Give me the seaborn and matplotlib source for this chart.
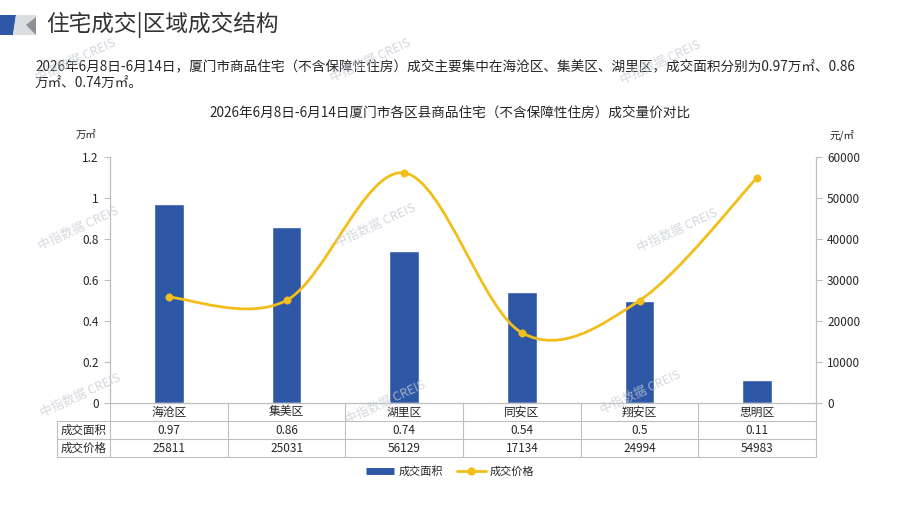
import numpy as np
import pandas as pd
import matplotlib
matplotlib.use('Agg')
import matplotlib.pyplot as plt
import seaborn as sns
from matplotlib.path import Path
from matplotlib.patches import PathPatch, Polygon
from matplotlib.lines import Line2D

# 数据
districts = ['海沧区', '集美区', '湖里区', '同安区', '翔安区', '思明区']
area = [0.97, 0.86, 0.74, 0.54, 0.5, 0.11]
price = [25811, 25031, 56129, 17134, 24994, 54983]
area_labels = ['0.97', '0.86', '0.74', '0.54', '0.5', '0.11']
price_labels = ['25811', '25031', '56129', '17134', '24994', '54983']
row_names = ['成交面积', '成交价格']
left_ticks = [0, 0.2, 0.4, 0.6, 0.8, 1, 1.2]
left_tick_labels = ['0', '0.2', '0.4', '0.6', '0.8', '1', '1.2']
right_ticks = [0, 10000, 20000, 30000, 40000, 50000, 60000]

sns.set_theme(style='white')
plt.rcParams['font.family'] = ['Noto Sans CJK SC', 'DejaVu Sans']

BLUE = '#2E58A6'
GOLD = '#F2BE1A'
LINE = '#BFBFBF'
TXT = '#262626'

W, H = 897, 505
fig = plt.figure(figsize=(W / 100, H / 100), dpi=100)


def px(x, y):
    return (x / W, 1 - y / H)


# 标题装饰
for pts, col in [
    ([(0, 15), (16, 15), (13, 35), (0, 35)], '#2E58A6'),
    ([(16, 15), (36, 15), (36, 35), (13, 35)], '#DCDDE1'),
    ([(26, 25), (36, 17), (36, 35)], '#8E9096'),
]:
    fig.patches.append(Polygon([px(*p) for p in pts], closed=True, transform=fig.transFigure,
                               facecolor=col, edgecolor='none'))
fig.text(*px(46, 25), '住宅成交|区域成交结构', fontsize=16.3, color='#333333', va='center', ha='left')

fig.text(*px(35, 66), '2026年6月8日-6月14日，厦门市商品住宅（不含保障性住房）成交主要集中在海沧区、集美区、湖里区，成交面积分别为0.97万㎡、0.86',
         fontsize=9.8, color=TXT, va='center', ha='left')
fig.text(*px(35, 83), '万㎡、0.74万㎡。', fontsize=9.8, color=TXT, va='center', ha='left')

fig.text(*px(450, 113), '2026年6月8日-6月14日厦门市各区县商品住宅（不含保障性住房）成交量价对比',
         fontsize=9.8, color=TXT, va='center', ha='center')
fig.text(*px(86, 135), '万㎡', fontsize=7.5, color=TXT, va='center', ha='center')
fig.text(*px(842, 135), '元/㎡', fontsize=7.5, color=TXT, va='center', ha='center')

# 主图
ax = fig.add_axes([110 / W, 1 - 403 / H, 706 / W, 246 / H])
df = pd.DataFrame({'区县': districts, '成交面积': area, '成交价格': price})
sns.barplot(data=df, x='区县', y='成交面积', color=BLUE, saturation=1, width=0.25, ax=ax)
ax.set_xlim(-0.5, len(districts) - 0.5)
ax.set_ylim(0, 1.2)
ax.set_yticks(left_ticks)
ax.set_yticklabels(left_tick_labels)
ax.set_xlabel('')
ax.set_ylabel('')
ax.tick_params(axis='x', bottom=False, labelbottom=False)
ax.tick_params(axis='y', left=True, direction='out', length=4, width=0.8, color=LINE,
               labelsize=8.5, labelcolor=TXT, pad=4)
for s in ['top', 'right']:
    ax.spines[s].set_visible(False)
for s in ['left', 'bottom']:
    ax.spines[s].set_color(LINE)
    ax.spines[s].set_linewidth(0.9)

ax2 = ax.twinx()
ax2.set_ylim(0, 60000)
ax2.set_yticks(right_ticks)
ax2.tick_params(axis='y', right=True, direction='out', length=4, width=0.8, color=LINE,
                labelsize=8.5, labelcolor=TXT, pad=4)
for s in ['top', 'left', 'bottom']:
    ax2.spines[s].set_visible(False)
ax2.spines['right'].set_color(LINE)
ax2.spines['right'].set_linewidth(0.9)

# 平滑价格曲线
xs = np.arange(len(price), dtype=float)
pts = np.column_stack([xs, np.array(price, dtype=float)])
ext = np.vstack([pts[0], pts, pts[-1]])
verts = [pts[0]]
codes = [Path.MOVETO]
for i in range(len(pts) - 1):
    p0, p1, p2, p3 = ext[i], ext[i + 1], ext[i + 2], ext[i + 3]
    verts += [p1 + (p2 - p0) / 6, p2 - (p3 - p1) / 6, p2]
    codes += [Path.CURVE4] * 3
ax2.add_patch(PathPatch(Path(verts, codes), facecolor='none', edgecolor=GOLD, lw=2, zorder=4))
sns.scatterplot(x=xs, y=price, ax=ax2, color=GOLD, edgecolor=GOLD, s=28, zorder=5, legend=False)

# 数据表
rh = 18 / 246
lab_left = -53 / 706
xt = ax.get_xaxis_transform()
n = len(districts)
kw = dict(color=LINE, lw=0.8, clip_on=False)
for r in [1, 2, 3]:
    ax.plot([-0.5, n - 0.5], [-r * rh, -r * rh], transform=xt, **kw)
    ax.plot([lab_left, 0], [-r * rh, -r * rh], transform=ax.transAxes, **kw)
ax.plot([lab_left, lab_left], [-rh, -3 * rh], transform=ax.transAxes, **kw)
for k in range(n + 1):
    ax.plot([k - 0.5, k - 0.5], [0, -3 * rh], transform=xt, **kw)
for i, name in enumerate(districts):
    ax.text(i, -0.5 * rh, name, transform=xt, ha='center', va='center', fontsize=8.5, color=TXT)
    ax.text(i, -1.5 * rh, area_labels[i], transform=xt, ha='center', va='center', fontsize=8.5, color=TXT)
    ax.text(i, -2.5 * rh, price_labels[i], transform=xt, ha='center', va='center', fontsize=8.5, color=TXT)
for j, name in enumerate(row_names):
    ax.text(lab_left / 2, -(1.5 + j) * rh, name, transform=ax.transAxes, ha='center', va='center',
            fontsize=8.3, color=TXT)

# 图例
handles = [Line2D([], [], color=BLUE, lw=5, solid_capstyle='butt'),
           Line2D([], [], color=GOLD, lw=2, marker='o', markersize=5)]
fig.legend(handles, row_names, loc='center', bbox_to_anchor=px(450, 472), ncol=2, frameon=False,
           fontsize=8, handlelength=2.6, columnspacing=1.2, handletextpad=0.4)

# 水印
for (x, y) in [(75, 60), (370, 60), (660, 62), (78, 228), (375, 225), (677, 230),
               (80, 395), (385, 402), (640, 392)]:
    fig.text(*px(x, y), '中指数据 CREIS', fontsize=9, color='#C5CAD3', alpha=0.75, rotation=25,
             ha='center', va='center', zorder=10)

fig.savefig('out.png', dpi=100)
